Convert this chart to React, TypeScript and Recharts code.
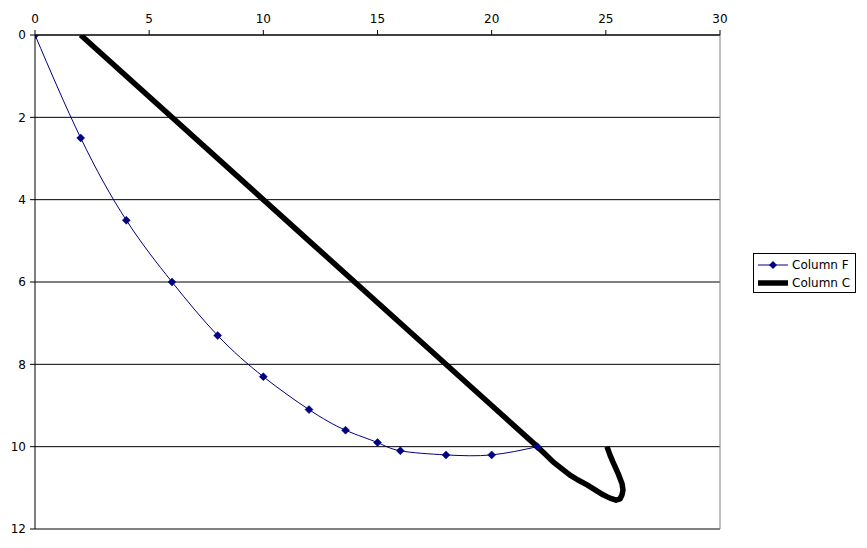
import React from "react";
import { LineChart, Line, XAxis, YAxis, CartesianGrid, ReferenceLine } from "recharts";

const xTicks = [0, 5, 10, 15, 20, 25, 30];
const yTicks = [0, 2, 4, 6, 8, 10, 12];

const colFX = [0, 2, 4, 6, 8, 10, 12, 13.6, 15, 16, 18, 20, 22];
const colFY = [0, 2.5, 4.5, 6, 7.3, 8.3, 9.1, 9.6, 9.9, 10.1, 10.2, 10.2, 10];

const colCX = [2, 12, 20, 22, 22.34, 22.69, 23.08, 23.43, 23.78, 24.18, 24.53, 24.88, 25.18, 25.45, 25.62, 25.71, 25.75, 25.71, 25.53, 25.31, 25.18, 25.05];
const colCY = [0, 5, 9, 10, 10.18, 10.37, 10.54, 10.69, 10.81, 10.93, 11.05, 11.17, 11.25, 11.3, 11.27, 11.17, 11.05, 10.9, 10.64, 10.37, 10.2, 10.0];

const dataF = colFX.map((x, i) => ({ x, y: colFY[i] }));
const dataC = colCX.map((x, i) => ({ x, y: colCY[i] }));

const FONT = "DejaVu Sans, sans-serif";
const NAVY = "#000080";

const Diamond = (props: any) => {
  const { cx, cy } = props;
  if (cx == null || cy == null) return null;
  const r = 4;
  return (
    <path
      d={`M${cx},${cy - r}L${cx + r},${cy}L${cx},${cy + r}L${cx - r},${cy}Z`}
      fill={NAVY}
      stroke={NAVY}
      strokeWidth={0.5}
    />
  );
};

export default function App() {
  return (
    <div style={{ position: "absolute", left: 0, top: 0, width: 867, height: 548, background: "#fff" }}>
      <LineChart
        width={867}
        height={548}
        margin={{ top: 5, left: 5, right: 147, bottom: 19 }}
      >
        <CartesianGrid vertical={false} stroke="#000" strokeWidth={1} horizontalValues={yTicks} />
        <XAxis
          type="number"
          dataKey="x"
          orientation="top"
          domain={[0, 30]}
          ticks={xTicks}
          height={30}
          tickSize={5}
          tickMargin={7}
          axisLine={{ stroke: "#000" }}
          tickLine={{ stroke: "#000" }}
          tick={{ fill: "#000", fontSize: 12, fontFamily: FONT }}
          allowDataOverflow
        />
        <YAxis
          type="number"
          dataKey="y"
          reversed
          domain={[0, 12]}
          ticks={yTicks}
          width={30}
          tickSize={5}
          tickMargin={4}
          axisLine={{ stroke: "#000" }}
          tickLine={{ stroke: "#000" }}
          tick={{ fill: "#000", fontSize: 12, fontFamily: FONT }}
          allowDataOverflow
        />
        <ReferenceLine x={30} stroke="#808080" strokeWidth={1} />
        <Line
          data={dataC}
          dataKey="y"
          type="linear"
          stroke="#000"
          strokeWidth={5.5}
          dot={false}
          strokeLinejoin="round"
          isAnimationActive={false}
        />
        <Line
          data={dataF}
          dataKey="y"
          type="natural"
          stroke={NAVY}
          strokeWidth={1}
          dot={<Diamond />}
          activeDot={false}
          isAnimationActive={false}
        />
      </LineChart>
      <div
        style={{
          position: "absolute",
          left: 753,
          top: 253,
          width: 103,
          height: 40,
          border: "1px solid #000",
          fontFamily: FONT,
          fontSize: 12,
          color: "#000",
          boxSizing: "border-box",
        }}
      >
        <div style={{ position: "absolute", left: 4, top: 3, display: "flex", alignItems: "center", height: 16 }}>
          <svg width={30} height={16}>
            <line x1={0} y1={8} x2={30} y2={8} stroke={NAVY} strokeWidth={1} />
            <path d="M15,4L19,8L15,12L11,8Z" fill={NAVY} />
          </svg>
          <span style={{ marginLeft: 4 }}>Column F</span>
        </div>
        <div style={{ position: "absolute", left: 4, top: 21, display: "flex", alignItems: "center", height: 16 }}>
          <svg width={30} height={16}>
            <line x1={0} y1={8} x2={30} y2={8} stroke="#000" strokeWidth={5.5} />
          </svg>
          <span style={{ marginLeft: 4 }}>Column C</span>
        </div>
      </div>
    </div>
  );
}
